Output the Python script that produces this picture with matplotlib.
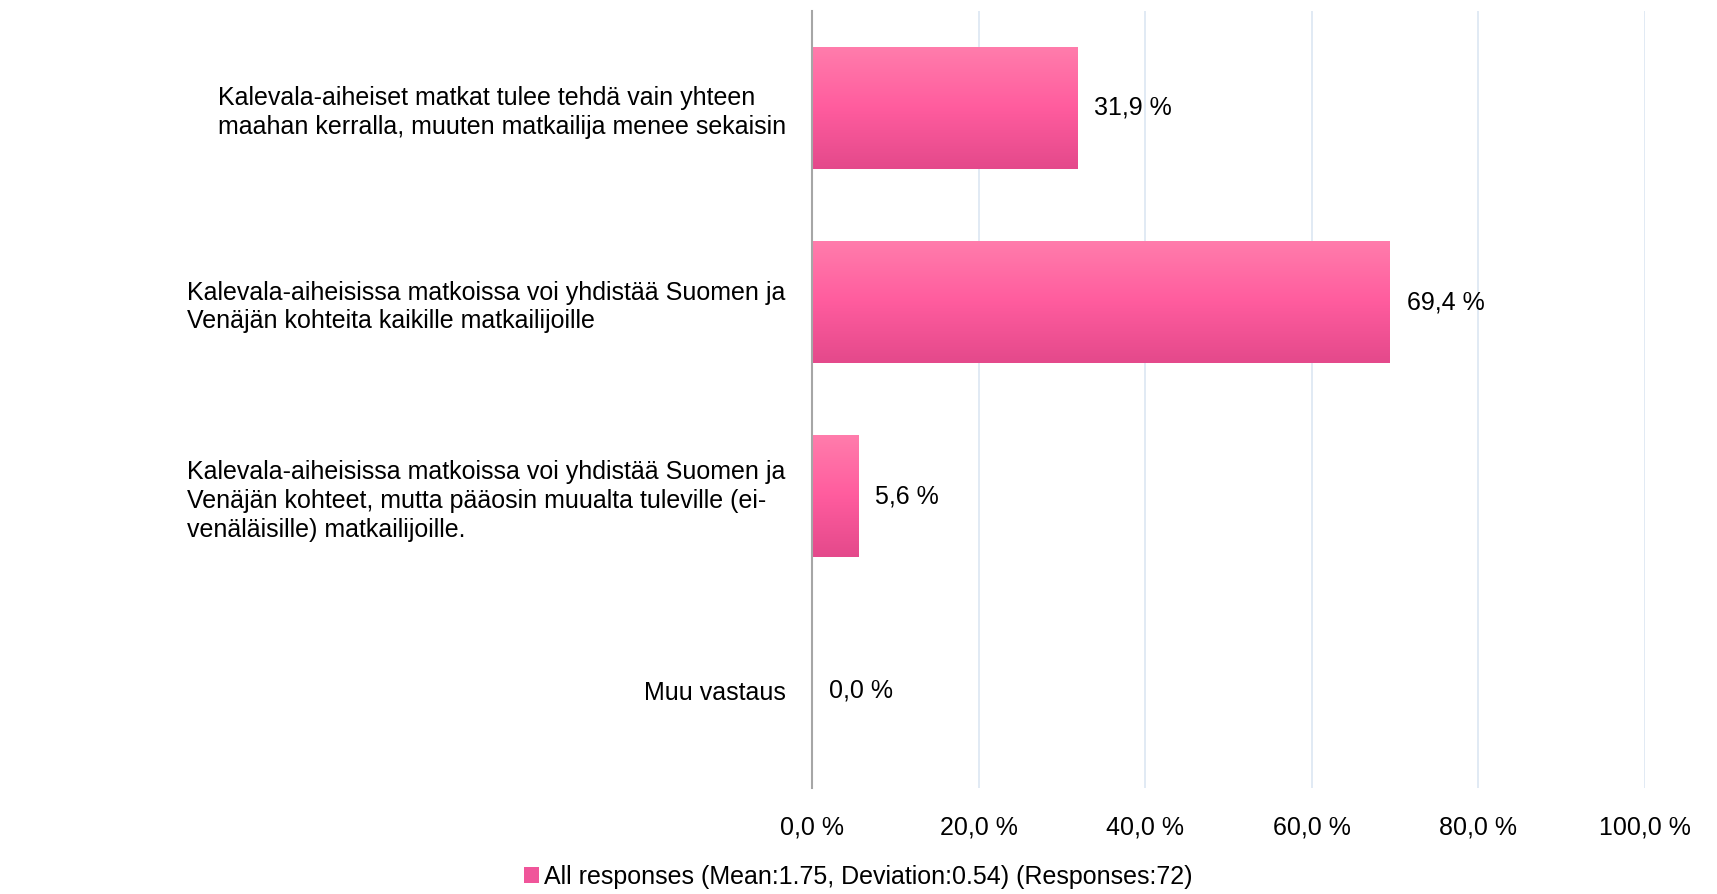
import numpy as np
import matplotlib
matplotlib.use("Agg")
import matplotlib.pyplot as plt
from matplotlib.colors import LinearSegmentedColormap
from matplotlib.patches import Rectangle

# ---- DATA

categories = [
    "Kalevala-aiheiset matkat tulee tehdä vain yhteen\nmaahan kerralla, muuten matkailija menee sekaisin",
    "Kalevala-aiheisissa matkoissa voi yhdistää Suomen ja\nVenäjän kohteita kaikille matkailijoille",
    "Kalevala-aiheisissa matkoissa voi yhdistää Suomen ja\nVenäjän kohteet, mutta pääosin muualta tuleville (ei-\nvenäläisille) matkailijoille.",
    "Muu vastaus",
]
values = [31.9, 69.4, 5.6, 0.0]
xticks = [0, 20, 40, 60, 80, 100]
legend_label = "All responses (Mean:1.75, Deviation:0.54) (Responses:72)"

# ---- STYLE

plt.rcParams['font.family'] = ['Liberation Sans', 'DejaVu Sans']
pink = LinearSegmentedColormap.from_list(
    "pink", ["#ff7dac", "#ff5c9e", "#e4498b"])
grad = np.linspace(0, 1, 256).reshape(-1, 1)
fs = 18

# ---- FIGURE

fig = plt.figure(figsize=(17.17, 8.94), dpi=100)
ax = fig.add_axes([0.473, 0.119, 0.485, 0.869])

y = np.arange(len(categories))
bars = ax.barh(y, values, height=0.63, color="none", edgecolor="none")

# gradient fill clipped to each bar
for b in bars:
    if b.get_width() <= 0:
        continue
    x0, y0 = b.get_x(), b.get_y()
    w, h = b.get_width(), b.get_height()
    im = ax.imshow(grad, cmap=pink, aspect="auto",
                   extent=(x0, x0 + w, y0 + h, y0), zorder=2)
    im.set_clip_path(b)

# data labels
for yi, v in zip(y, values):
    ax.text(v + 2.0, yi, f"{v:.1f} %".replace(".", ","), va="center",
            ha="left", fontsize=fs, color="black")

ax.set_xlim(0, 100)
ax.set_ylim(len(categories) - 0.5, -0.5)
ax.set_xticks(xticks)
ax.set_xticklabels([f"{t:.1f} %".replace(".", ",") for t in xticks],
                   fontsize=fs)
ax.set_yticks(y)
ax.set_yticklabels(categories, fontsize=fs, multialignment="left",
                   linespacing=1.25)
ax.tick_params(axis="both", length=0)
ax.tick_params(axis="x", pad=20)
ax.tick_params(axis="y", pad=19)

ax.grid(axis="x", color="#dce6f2", linewidth=1.2, zorder=0)
ax.set_axisbelow(True)
for s in ["top", "right", "bottom"]:
    ax.spines[s].set_visible(False)
ax.spines["left"].set_color("#a6a6a6")
ax.spines["left"].set_linewidth(1.5)
ax.spines["left"].set_zorder(3)

# legend
handle = Rectangle((0, 0), 1, 1, facecolor="#f0559a", edgecolor="none")
fig.legend([handle], [legend_label], loc="center",
           bbox_to_anchor=(0.5, 0.019), frameon=False, fontsize=fs,
           handlelength=0.6, handleheight=0.6, handletextpad=0.2,
           borderpad=0, borderaxespad=0)

fig.savefig("out.png", dpi=100)
